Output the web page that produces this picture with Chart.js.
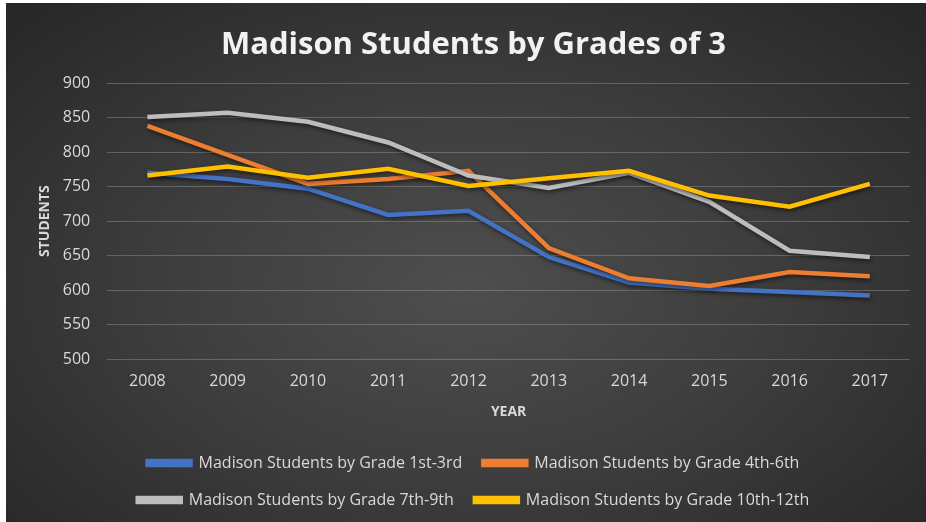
<!DOCTYPE html>
<html>
<head>
<meta charset="utf-8">
<title>Madison Students by Grades of 3</title>
<script src="https://cdn.jsdelivr.net/npm/chart.js@4"></script>
<style>
  html, body { margin: 0; padding: 0; background: #fff; }
  #wrap {
    position: absolute; left: 6px; top: 3px; width: 920px; height: 519px;
    background: radial-gradient(ellipse at 50% 55%, #4e4e4e 0%, #3e3e3e 45%, #262626 100%);
  }
</style>
</head>
<body>
<div id="wrap"><canvas id="LineChart"></canvas></div>
<script>
// data
const years = ['2008', '2009', '2010', '2011', '2012', '2013', '2014', '2015', '2016', '2017'];
const grade1to3 = [770, 761, 747, 709, 715, 648, 611, 602, 597, 592];
const grade4to6 = [838, 796, 754, 761, 773, 661, 617, 606, 626, 620];
const grade7to9 = [851, 857, 844, 814, 766, 748, 770, 728, 657, 648];
const grade10to12 = [766, 779, 763, 776, 751, 762, 773, 737, 721, 754];
const yTicks = [500, 550, 600, 650, 700, 750, 800, 850, 900];

Chart.defaults.font.family = "'Open Sans', sans-serif";
Chart.defaults.color = '#d9d9d9';

function line(label, values, color, order) {
  return {
    label: label,
    data: values,
    borderColor: color,
    backgroundColor: color,
    borderWidth: 4.5,
    pointRadius: 0,
    tension: 0,
    order: order
  };
}

// soft shadow under the lines, like Excel
const shadowPlugin = {
  id: 'lineShadow',
  beforeDatasetDraw(chart) {
    const c = chart.ctx;
    c.save();
    c.shadowColor = 'rgba(0,0,0,0.55)';
    c.shadowBlur = 4;
    c.shadowOffsetX = 1;
    c.shadowOffsetY = 2;
  },
  afterDatasetDraw(chart) {
    chart.ctx.restore();
  }
};

const ctx = document.getElementById('LineChart').getContext('2d');

const myChart = new Chart(ctx, {
  type: 'line',
  data: {
    labels: years,
    datasets: [
      line('Madison Students by Grade 1st-3rd', grade1to3, '#4472c4', 3),
      line('Madison Students by Grade 4th-6th', grade4to6, '#ed7d31', 2),
      line('Madison Students by Grade 7th-9th', grade7to9, '#bdbdbd', 1),
      line('Madison Students by Grade 10th-12th', grade10to12, '#ffc000', 0)
    ]
  },
  plugins: [shadowPlugin],
  options: {
    responsive: true,
    maintainAspectRatio: false,
    animation: false,
    layout: {
      padding: { top: 14, right: 16, bottom: 4, left: 31 }
    },
    plugins: {
      title: {
        display: true,
        text: 'Madison Students by Grades of 3',
        color: '#f2f2f2',
        font: { size: 31, weight: 'bold' },
        padding: { top: 10, bottom: 19 }
      },
      legend: {
        position: 'bottom',
        labels: {
          boxWidth: 43,
          boxHeight: 4,
          padding: 21,
          color: '#d9d9d9',
          font: { size: 16 },
          sort: (a, b) => a.datasetIndex - b.datasetIndex
        }
      },
      tooltip: { enabled: false }
    },
    scales: {
      x: {
        offset: true,
        grid: { display: false, drawTicks: false },
        border: { display: false },
        ticks: { color: '#d9d9d9', font: { size: 16 }, padding: 13 },
        title: {
          display: true,
          text: 'YEAR',
          color: '#d9d9d9',
          font: { size: 14, weight: 'bold' },
          padding: { top: -1, bottom: 14 }
        }
      },
      y: {
        min: 500,
        max: 900,
        afterBuildTicks: (axis) => { axis.ticks = yTicks.map(v => ({ value: v })); },
        grid: { color: 'rgba(180,180,180,0.35)', lineWidth: 1, drawTicks: false },
        border: { display: false },
        ticks: { color: '#d9d9d9', font: { size: 16 }, padding: 17 },
        title: {
          display: true,
          text: 'STUDENTS',
          color: '#d9d9d9',
          font: { size: 14, weight: 'bold' },
          padding: { top: 0, bottom: -8 }
        }
      }
    }
  }
});
</script>
</body>
</html>
